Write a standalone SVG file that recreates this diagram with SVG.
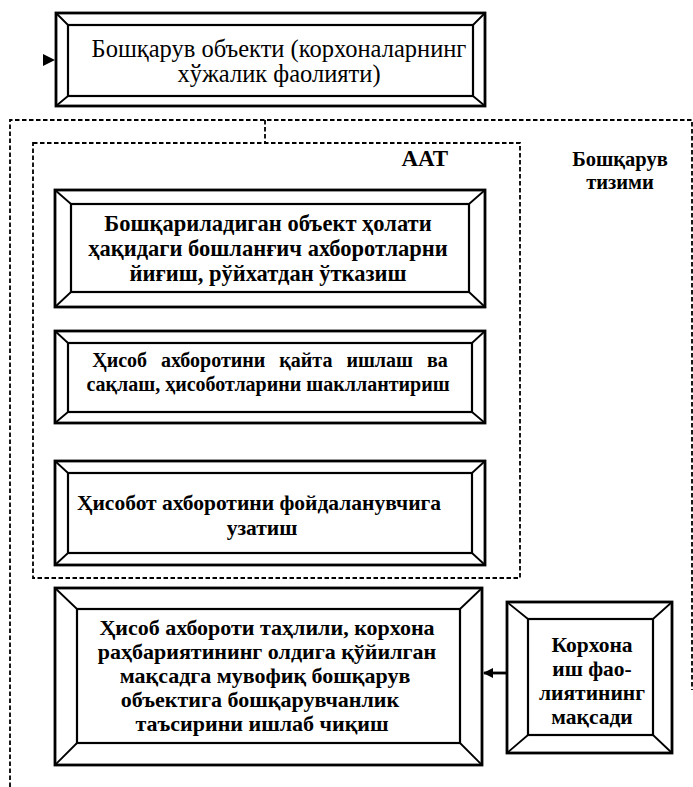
<svg xmlns="http://www.w3.org/2000/svg" width="693" height="787" viewBox="0 0 693 787">
<defs>
<style>
.frame{fill:none;stroke:#000;stroke-width:2.8;stroke-linejoin:miter}
.inner{fill:none;stroke:#000;stroke-width:2.2}
.bev{fill:none;stroke:#000;stroke-width:1.8}
.dash{fill:none;stroke:#000;stroke-width:1.8;stroke-dasharray:4.5 2.5}
.t{font-family:"Liberation Serif","DejaVu Serif",serif;font-weight:bold;fill:#000;text-anchor:middle}
.tn{font-family:"Liberation Serif","DejaVu Serif",serif;font-size:24.5px;fill:#000;text-anchor:middle}
</style>
<marker id="ah" markerWidth="10" markerHeight="10" refX="9" refY="5" orient="auto" markerUnits="userSpaceOnUse">
<path d="M0,0 L10,5 L0,10 Z" fill="#000"/>
</marker>
</defs>
<rect width="693" height="787" fill="#fff"/>

<g id="connectors">
<path class="dash" d="M10,787 L10,120 L692,120 L692,690"/>
<path class="dash" d="M265,120 L265,143"/>
<path d="M43,54 L55,60 L43,66 Z" fill="#000"/>
<path d="M507,673 L484,673" stroke="#000" stroke-width="2.8" fill="none" marker-end="url(#ah)"/>
</g>

<g id="aat">
<rect class="dash" x="33" y="143" width="487" height="435"/>
<text class="t" x="448" y="166" style="font-size:23px;text-anchor:end">ААТ</text>
</g>

<g id="label-system">
<text class="t" x="620" y="166" style="font-size:20.5px">Бошқарув</text>
<text class="t" x="620" y="189" style="font-size:20.5px">тизими</text>
</g>

<g id="object">
<rect class="frame" x="56" y="13" width="429" height="93"/>
<rect class="inner" x="68" y="25" width="405" height="71"/>
<path class="bev" d="M56,13 L68,25 M485,13 L473,25 M56,106 L68,96 M485,106 L473,96"/>
<text class="tn" x="279" y="57">Бошқарув объекти (корхоналарнинг</text>
<text class="tn" x="279" y="82">хўжалик фаолияти)</text>
</g>

<g id="collect">
<rect class="frame" x="55" y="190" width="430" height="117"/>
<rect class="inner" x="71" y="204" width="398" height="88"/>
<path class="bev" d="M55,190 L71,204 M485,190 L469,204 M55,307 L71,292 M485,307 L469,292"/>
<g class="t" style="font-size:22.5px">
<text x="268" y="231">Бошқариладиган объект ҳолати</text>
<text x="268" y="256">ҳақидаги бошланғич ахборотларни</text>
<text x="268" y="281">йиғиш, рўйхатдан ўтказиш</text>
</g>
</g>

<g id="process">
<rect class="frame" x="55" y="331" width="430" height="92"/>
<rect class="inner" x="68" y="343" width="404" height="69"/>
<path class="bev" d="M55,331 L68,343 M485,331 L472,343 M55,423 L68,412 M485,423 L472,412"/>
<g class="t" style="font-size:20px">
<text x="270" y="367" word-spacing="9">Ҳисоб ахборотини қайта ишлаш ва</text>
<text x="268" y="391">сақлаш, ҳисоботларини шакллантириш</text>
</g>
</g>

<g id="transfer">
<rect class="frame" x="55" y="461" width="430" height="104"/>
<rect class="inner" x="68" y="473" width="404" height="80"/>
<path class="bev" d="M55,461 L68,473 M485,461 L472,473 M55,565 L68,553 M485,565 L472,553"/>
<g class="t" style="font-size:21.5px">
<text x="259" y="510">Ҳисобот ахборотини фойдаланувчига</text>
<text x="262" y="535">узатиш</text>
</g>
</g>

<g id="analysis">
<rect class="frame" x="55" y="588" width="427" height="177"/>
<rect class="inner" x="77" y="609" width="383" height="134"/>
<path class="bev" d="M55,588 L77,609 M482,588 L460,609 M55,765 L77,743 M482,765 L460,743"/>
<g class="t" style="font-size:22px">
<text x="267" y="635">Ҳисоб ахбороти таҳлили, корхона</text>
<text x="267" y="659">раҳбариятининг олдига қўйилган</text>
<text x="265" y="683">мақсадга мувофиқ бошқарув</text>
<text x="260" y="707">объектига бошқарувчанлик</text>
<text x="262" y="731">таъсирини ишлаб чиқиш</text>
</g>
</g>

<g id="goal">
<rect class="frame" x="507" y="602" width="165" height="151"/>
<rect class="inner" x="528" y="619" width="125" height="116"/>
<path class="bev" d="M507,602 L528,619 M672,602 L653,619 M507,753 L528,735 M672,753 L653,735"/>
<g class="t" style="font-size:21.5px">
<text x="592" y="652">Корхона</text>
<text x="592" y="676">иш фао-</text>
<text x="592" y="700">лиятининг</text>
<text x="592" y="724">мақсади</text>
</g>
</g>
</svg>
